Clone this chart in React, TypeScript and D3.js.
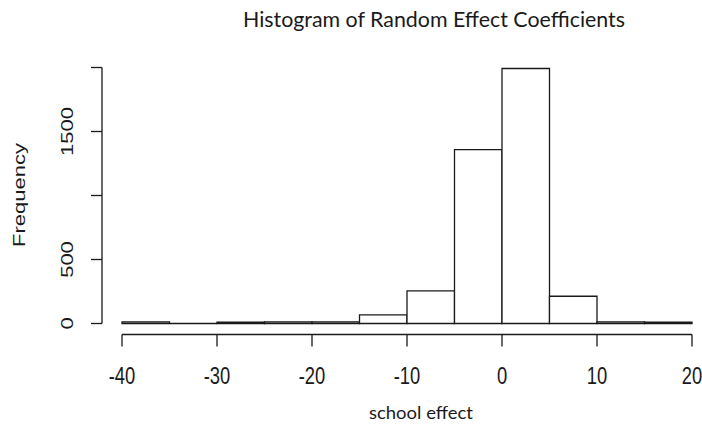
import { useEffect, useRef } from "react";
import * as d3 from "d3";

// histogram bins (width 5) and counts
const binStarts = [-40, -35, -30, -25, -20, -15, -10, -5, 0, 5, 10, 15];
const counts = [12, 0, 11, 12, 12, 67, 255, 1359, 1992, 213, 12, 11];
const xTicks = [-40, -30, -20, -10, 0, 10, 20];
const yTicks = [0, 500, 1000, 1500, 2000];
// R drops the labels that would overlap
const yTickLabels = ["0", "500", "", "1500", ""];

const title = "Histogram of Random Effect Coefficients";
const xLabel = "school effect";
const yLabel = "Frequency";

const App = () => {
  const ref = useRef<SVGSVGElement>(null);

  useEffect(() => {
    draw();
  }, []);

  const draw = () => {
    const width = 702;
    const height = 432;
    const binWidth = 5;
    const axisFont = "'Liberation Sans', Arial, sans-serif";
    const titleFont = "Lato, 'Open Sans', sans-serif";
    const ink = "#1a1a1a";

    const svg = d3.select(ref.current).attr("width", width).attr("height", height);
    svg.selectAll("*").remove();

    svg.append("rect").attr("width", width).attr("height", height).attr("fill", "#fff");

    const xScale = d3.scaleLinear().domain([-40, 20]).range([122, 692]);
    const yScale = d3.scaleLinear().domain([0, 2000]).range([323.5, 67.5]);

    // bars as closed paths so that empty bins still show their outline
    svg
      .append("g")
      .selectAll("path")
      .data(binStarts)
      .join("path")
      .attr("d", (d, i) => {
        const p = d3.path();
        p.rect(xScale(d), yScale(counts[i]), xScale(d + binWidth) - xScale(d), yScale(0) - yScale(counts[i]));
        return p.toString();
      })
      .attr("fill", "#fff")
      .attr("stroke", ink)
      .attr("stroke-width", 1.3);

    // x axis (R style: line spans first to last tick)
    const xAxisY = 334.5;
    const xg = svg.append("g");
    xg.append("line")
      .attr("x1", xScale(xTicks[0]))
      .attr("x2", xScale(xTicks[xTicks.length - 1]))
      .attr("y1", xAxisY)
      .attr("y2", xAxisY)
      .attr("stroke", ink)
      .attr("stroke-width", 1.3);
    xg.selectAll("line.tick")
      .data(xTicks)
      .join("line")
      .attr("class", "tick")
      .attr("x1", (d) => xScale(d))
      .attr("x2", (d) => xScale(d))
      .attr("y1", xAxisY)
      .attr("y2", xAxisY + 12)
      .attr("stroke", ink)
      .attr("stroke-width", 1.3);
    xg.selectAll("text")
      .data(xTicks)
      .join("text")
      .attr("transform", (d) => `translate(${xScale(d)},384) scale(0.8,1)`)
      .attr("text-anchor", "middle")
      .attr("font-family", axisFont)
      .attr("font-size", 23)
      .attr("fill", ink)
      .text((d) => String(d));

    // y axis
    const yAxisX = 102;
    const yg = svg.append("g");
    yg.append("line")
      .attr("x1", yAxisX)
      .attr("x2", yAxisX)
      .attr("y1", yScale(yTicks[0]))
      .attr("y2", yScale(yTicks[yTicks.length - 1]))
      .attr("stroke", ink)
      .attr("stroke-width", 1.3);
    yg.selectAll("line.tick")
      .data(yTicks)
      .join("line")
      .attr("class", "tick")
      .attr("x1", yAxisX)
      .attr("x2", yAxisX - 11)
      .attr("y1", (d) => yScale(d))
      .attr("y2", (d) => yScale(d))
      .attr("stroke", ink)
      .attr("stroke-width", 1.3);
    yg.selectAll("text")
      .data(yTicks)
      .join("text")
      .attr("transform", (d) => `translate(73,${yScale(d)}) scale(0.75,1) rotate(-90)`)
      .attr("text-anchor", "middle")
      .attr("font-family", axisFont)
      .attr("font-size", 22)
      .attr("fill", ink)
      .text((d, i) => yTickLabels[i]);

    // axis titles
    svg
      .append("text")
      .attr("transform", `translate(24.5,195) scale(0.75,1) rotate(-90)`)
      .attr("text-anchor", "middle")
      .attr("font-family", axisFont)
      .attr("font-size", 22)
      .attr("fill", ink)
      .text(yLabel);

    svg
      .append("text")
      .attr("x", 421)
      .attr("y", 419)
      .attr("text-anchor", "middle")
      .attr("font-family", titleFont)
      .attr("font-size", 17)
      .attr("textLength", 104)
      .attr("lengthAdjust", "spacingAndGlyphs")
      .attr("fill", ink)
      .text(xLabel);

    // main title
    svg
      .append("text")
      .attr("x", 434)
      .attr("y", 27)
      .attr("text-anchor", "middle")
      .attr("font-family", titleFont)
      .attr("font-size", 22)
      .attr("textLength", 382)
      .attr("lengthAdjust", "spacingAndGlyphs")
      .attr("fill", ink)
      .text(title);
  };

  return (
    <div style={{ position: "absolute", left: 0, top: 0 }}>
      <svg ref={ref} style={{ display: "block" }}></svg>
    </div>
  );
};

export default App;
